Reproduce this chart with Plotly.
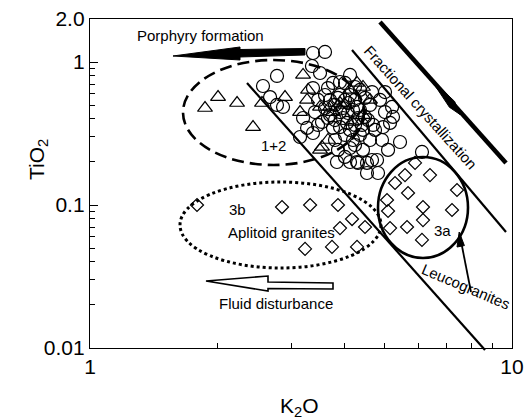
import plotly.graph_objects as go

# K2O vs TiO2 (wt%) by rock group
circle_k2o = [3.376, 3.605, 3.357, 3.508, 2.774, 2.570, 2.671, 2.867, 2.774, 3.146,
              3.269, 3.376, 3.198, 3.765, 4.020, 4.246, 4.088, 4.293, 4.064, 4.435,
              4.200, 3.869, 4.020, 4.293, 4.533, 4.866, 5.140, 5.224, 4.947, 5.197,
              5.428, 6.119, 4.435, 4.659, 4.533, 4.814, 4.316, 3.848, 4.132, 4.788,
              3.605, 3.705, 3.807, 3.912, 4.020, 4.132, 4.246, 4.363, 4.484, 4.608,
              3.807, 3.912, 3.705, 3.605, 4.020, 4.246, 4.363, 4.608, 4.736, 4.559,
              3.912, 3.664, 4.132, 3.470, 3.546, 3.413, 4.659, 5.001, 4.920, 5.085,
              3.376, 3.807, 4.132,
              3.869, 3.977, 4.088, 4.200, 4.316, 3.977, 3.765, 4.132, 4.412, 4.246,
              4.484, 4.363, 3.664, 3.470, 4.685, 5.001, 3.912]
circle_tio2 = [1.157, 1.176, 0.938, 0.838, 0.799, 0.680, 0.569, 0.485, 0.501, 0.299,
               0.346, 0.319, 0.406, 0.714, 0.714, 0.669, 0.440, 0.485, 0.375, 0.335,
               0.285, 0.243, 0.217, 0.200, 0.197, 0.543, 0.375, 0.413, 0.351, 0.485,
               0.276, 0.235, 0.243, 0.2065, 0.1675, 0.1675, 0.197, 0.200, 0.200, 0.2065,
               0.588, 0.543, 0.501, 0.447, 0.543, 0.588, 0.543, 0.462, 0.413, 0.501,
               0.393, 0.351, 0.426, 0.477, 0.309, 0.363, 0.309, 0.285, 0.335, 0.393,
               0.588, 0.658, 0.812, 0.543, 0.381, 0.447, 0.617, 0.447, 0.285, 0.243,
               0.658, 0.285, 0.2505,
               0.561, 0.477, 0.517, 0.462, 0.406, 0.406, 0.346, 0.335, 0.363, 0.263,
               0.561, 0.638, 0.406, 0.363, 0.363, 0.617, 0.725]

triangle_k2o = [1.873, 2.011, 2.231, 2.434, 2.556, 2.898, 3.146, 3.269, 3.198, 3.287,
                3.508, 3.664, 3.705, 4.020, 4.293, 4.435, 4.178, 3.912, 3.508, 3.765,
                4.435, 3.546, 4.132, 4.608]
triangle_tio2 = [0.477, 0.569, 0.517, 0.351, 0.517, 0.569, 0.447, 0.543, 0.812, 0.638,
                 0.243, 0.285, 0.485, 0.501, 0.714, 0.669, 0.381, 0.517, 0.485, 0.447,
                 0.426, 0.255, 0.638, 0.543]

diamond_k2o = [5.892, 5.578, 6.392, 5.282, 5.671, 5.056, 5.085, 6.153, 6.153, 5.140,
               5.640, 7.408, 7.208, 6.119,
               1.793, 2.851, 3.323, 3.869, 4.178, 3.912, 4.484, 3.233, 3.745, 4.293]
diamond_tio2 = [0.197, 0.162, 0.162, 0.1426, 0.1214, 0.1084, 0.0908, 0.0968, 0.0785, 0.069,
                0.0702, 0.1274, 0.0923, 0.057,
                0.100, 0.0968, 0.100, 0.100, 0.0798, 0.069, 0.0702, 0.0493, 0.0509, 0.0509]

x_tickvals = [1, 10]
x_ticktext = ["1", "10"]
x_minor = [2, 3, 4, 5, 6, 7, 8, 9]
y_tickvals = [0.01, 0.1, 1, 2]
y_ticktext = ["0.01", "0.1", "1", "2.0"]
y_minor = [0.02, 0.03, 0.04, 0.05, 0.06, 0.07, 0.08, 0.09,
           0.2, 0.3, 0.4, 0.5, 0.6, 0.7, 0.8, 0.9]

W, H = 524, 419
PL, PR, PT, PB = 90, 512, 19, 348
FONT = "Arial, Liberation Sans, sans-serif"


def fx(x):
    """Figure pixel column -> paper x."""
    return (x - PL) / (PR - PL)


def fy(y):
    """Figure pixel row -> paper y."""
    return (PB - y) / (PB - PT)


def poly(points):
    return "M " + " L ".join(f"{fx(a):.5f} {fy(b):.5f}" for a, b in points) + " Z"


fig = go.Figure()

fig.add_trace(go.Scatter(
    x=circle_k2o, y=circle_tio2, mode="markers",
    marker=dict(symbol="circle-open", size=13, color="black", line=dict(width=1.2)),
    showlegend=False))
fig.add_trace(go.Scatter(
    x=triangle_k2o, y=triangle_tio2, mode="markers",
    marker=dict(symbol="triangle-up-open", size=13, color="black", line=dict(width=1.2)),
    showlegend=False))
fig.add_trace(go.Scatter(
    x=diamond_k2o, y=diamond_tio2, mode="markers",
    marker=dict(symbol="diamond-open", size=10, color="black", line=dict(width=1.2)),
    showlegend=False))

shapes = []


def line(x0, y0, x1, y1, w):
    shapes.append(dict(type="line", xref="paper", yref="paper",
                       x0=fx(x0), y0=fy(y0), x1=fx(x1), y1=fy(y1),
                       line=dict(color="black", width=w)))


def ellipse(x0, y0, x1, y1, w, dash):
    shapes.append(dict(type="circle", xref="paper", yref="paper",
                       x0=fx(x0), y0=fy(y0), x1=fx(x1), y1=fy(y1),
                       line=dict(color="black", width=w, dash=dash)))


def solid_poly(points, fill="black", w=1.0):
    shapes.append(dict(type="path", xref="paper", yref="paper", path=poly(points),
                       fillcolor=fill, line=dict(color="black", width=w)))


# field boundaries
line(247, 83, 485, 350, 2.2)
line(352, 50, 506, 232, 2.2)
# fractional crystallization trend with an elongated head
line(380, 22, 506, 163, 4.5)
solid_poly([(430, 78.0), (454.6, 101.4), (460, 114.5), (449.4, 107.2)])

# group outlines
ellipse(183, 60, 364, 165, 2.6, "12px,6px")
ellipse(180, 182, 381, 268, 3.0, "3px,3px")
ellipse(378, 157, 468, 258, 2.6, "solid")

# porphyry formation arrow (solid)
solid_poly([(173, 56), (240, 47), (240, 49.5), (305, 48.5),
            (305, 55), (240, 57), (240, 60)])
# fluid disturbance arrow (hollow)
solid_poly([(206, 281), (268, 276), (268, 282), (333, 283),
            (333, 289), (268, 288.5), (268, 291)], fill="white", w=1.6)
# leucogranite pointer
line(471, 292, 460, 236, 1.8)
solid_poly([(459.2, 232), (457.0, 247), (464.4, 245.6)])

annotations = []


def label(text, x, y, size=15, angle=0):
    annotations.append(dict(text=text, xref="paper", yref="paper", x=fx(x), y=fy(y),
                            xanchor="center", yanchor="middle", showarrow=False,
                            textangle=angle, font=dict(family=FONT, size=size, color="black")))


label("Porphyry formation", 200, 35)
label("1+2", 273, 145)
label("3b", 237, 209)
label("Aplitoid granites", 281, 232)
label("Fluid disturbance", 276, 303)
label("3a", 442, 230)
label("Leucogranites", 466, 286, angle=23)
label("Fractional crystallization", 421, 107, angle=48)

# axis titles
label("K<sub>2</sub>O", 299, 407, size=21)
label("TiO<sub>2</sub>", 38, 160, size=21, angle=-90)

axis_common = dict(type="log", showgrid=False, zeroline=False, showline=True,
                   automargin=False,
                   linecolor="black", linewidth=1.3, mirror=True, ticks="inside",
                   ticklen=8, tickwidth=1.2, tickcolor="black",
                   tickfont=dict(family=FONT, size=21, color="black"))

fig.update_layout(
    width=W, height=H, autosize=False,
    margin=dict(l=PL, r=W - PR, t=PT, b=H - PB),
    paper_bgcolor="white", plot_bgcolor="white",
    xaxis=dict(axis_common, range=[0, 1], tickmode="array",
               tickvals=x_tickvals, ticktext=x_ticktext,
               minor=dict(tickmode="array", tickvals=x_minor, ticks="inside",
                          ticklen=5, tickwidth=1.2, tickcolor="black", showgrid=False)),
    yaxis=dict(axis_common, range=[-2, 0.30103], tickmode="array",
               tickvals=y_tickvals, ticktext=y_ticktext,
               minor=dict(tickmode="array", tickvals=y_minor, ticks="inside",
                          ticklen=5, tickwidth=1.2, tickcolor="black", showgrid=False)),
    shapes=shapes,
    annotations=annotations,
)

# fixed-size page: no scrollbars, no responsive re-fit
page_css = ("document.documentElement.style.overflow='hidden';"
            "document.body.style.margin='0';document.body.style.overflow='hidden';")
fig.write_html("out.html", config={"responsive": False}, post_script=page_css)
